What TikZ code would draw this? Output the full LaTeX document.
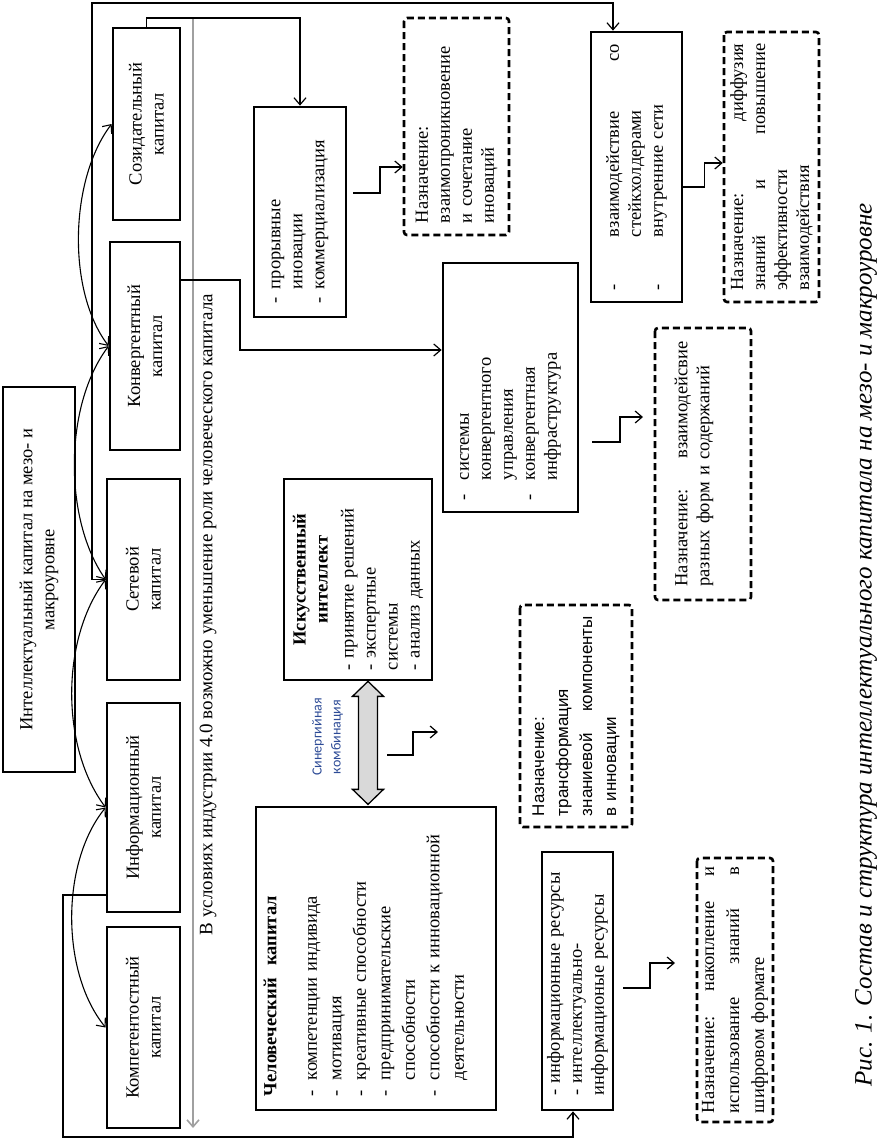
\documentclass[tikz,border=0pt]{standalone}
\usepackage{fontspec}
\setmainfont{Liberation Serif}
\newfontfamily\synfont{Carlito}
\newfontfamily\dsans{Liberation Sans}
\usetikzlibrary{arrows.meta}
\definecolor{synblue}{RGB}{45,75,150}
\definecolor{lgray}{RGB}{160,160,160}
\newcommand{\bfnt}{\fontsize{18.5}{22}\selectfont}
\newcommand{\itemdash}[1][14pt]{\makebox[#1][l]{-}}
\begin{document}
\begin{tikzpicture}[x=1pt,y=-1pt,
  box/.style={draw, line width=2.7pt, rotate=90, inner sep=0pt, align=center, font=\bfnt},
  dbox/.style={draw, line width=2.6pt, dash pattern=on 7pt off 4pt, rounded corners=3pt, rotate=90, inner sep=0pt, align=left, font=\bfnt},
  conn/.style={line width=1.2pt},
  arr/.style={line width=1.2pt, -{Straight Barb[length=7pt,width=12pt]}},
  curv/.style={line width=1.1pt, {Straight Barb[length=7pt,width=12pt]}-{Straight Barb[length=7pt,width=12pt]}},
]
\useasboundingbox (0,0) rectangle (879,1141);

% main and capital boxes
\node[box, minimum width=385pt, minimum height=72pt] (main) at (39,579.5) {Интеллектуальный капитал на мезо- и\\макроуровне};
\node[box, minimum width=192pt, minimum height=67pt] (sozid) at (146.5,124) {Созидательный\\капитал};
\node[box, minimum width=208pt, minimum height=70pt] (konv) at (145,346) {Конвергентный\\капитал};
\node[box, minimum width=201pt, minimum height=73pt] (setev) at (143.5,579.5) {Сетевой\\капитал};
\node[box, minimum width=209pt, minimum height=73pt] (inform) at (143.5,807.5) {Информационный\\капитал};
\node[box, minimum width=201pt, minimum height=73pt] (kompet) at (143.5,1027.5) {Компетентостный\\капитал};

% detail boxes
\node[box, align=left, text width=182pt, minimum width=210pt, minimum height=92pt] (proryv) at (300,212)
 {\itemdash прорывные\\\hspace*{14pt}иновации\\\itemdash коммерциализация};
\node[box, align=left, text width=225pt, minimum width=249pt, minimum height=135pt] (sist) at (510.5,387.5)
 {\itemdash[20pt]системы\\\hspace*{20pt}конвергентного\\\hspace*{20pt}управления\\\itemdash[20pt]конвергентная\\\hspace*{20pt}инфраструктура};
\node[box, align=left, text width=181pt, minimum width=201pt, minimum height=148pt] (ai) at (358,579.5)
 {\makebox[181pt]{\bfseries Искусственный}\\\makebox[181pt]{\bfseries интеллект}\\[4pt]\itemdash[12pt]принятие решений\\\itemdash[12pt]экспертные\\системы\\\itemdash[12pt]анализ данных};
\node[box, align=left, text width=275pt, minimum width=303pt, minimum height=240pt, font=\fontsize{18.5}{24.5}\selectfont] (human) at (376,958.5)
 {{\bfseries Человеческий\ \ капитал}\\[16pt]
  \itemdash[16pt]компетенции индивида\\\itemdash[16pt]мотивация\\\itemdash[16pt]креативные способности\\\itemdash[16pt]предпринимательские\\\hspace*{16pt}способности\\\itemdash[16pt]способности к инновационной\\\hspace*{16pt}деятельности\\\mbox{}};
\node[box, align=left, text width=228pt, minimum width=258pt, minimum height=71pt] (infres) at (577.5,981)
 {\itemdash[12pt]информационные ресурсы\\\itemdash[12pt]интеллектуально-\\информационые ресурсы};
\node[box, align=left, text width=246pt, minimum width=270pt, minimum height=91pt] (vzaim) at (636.5,167)
 {\itemdash[53pt]взаимодействие\hfill со\\\hspace*{53pt}стейкхолдерами\\\itemdash[53pt]внутренние сети};

% dashed boxes
\node[dbox, font=\dsans\fontsize{17}{24}\selectfont, text width=200pt, minimum width=222pt, minimum height=112pt] (d1) at (576,716)
 {Назначение:\\трансформация\\знаниевой\hfill компоненты\\в инновации};
\node[dbox, text width=193pt, minimum width=217pt, minimum height=105pt] (d2) at (456.5,126.5)
 {Назначение:\\взаимопроникновение\\и сочетание\\иноваций};
\node[dbox, text width=247pt, minimum width=270pt, minimum height=95pt] (d3) at (771.5,167)
 {Назначение:\hfill диффузия\\знаний\hfill и\hfill повышение\\эффективности\\взаимодействия};
\node[dbox, text width=245pt, minimum width=272pt, minimum height=96pt] (d4) at (703,464)
 {Назначение:\hfill взаимодейсвие\\разных форм и содержаний\\\mbox{}};
\node[dbox, text width=246pt, minimum width=264pt, minimum height=76pt, font=\fontsize{18.5}{25}\selectfont] (d5) at (735,990)
 {Назначение:\hfill накопление\hfill и\\использование\hfill знаний\hfill в\\шифровом формате};

% gray trend arrow with label
\coordinate (g1) at (193,18);
\coordinate (g2) at (193,1128);
\draw[line width=1.6pt, lgray, -{Straight Barb[length=7pt,width=12pt]}] (g1) -- (g2);
\node[rotate=90, font=\fontsize{19}{22}\selectfont, inner sep=0pt] (glab) at (208,614.5)
 {В условиях индустрии 4.0 возможно уменьшение роли человеческого капитала};

% synergy double arrow
\coordinate (a1) at ([xshift=10pt]ai.west);
\draw[line width=1.3pt, fill=gray!30] (a1) -- ++(15.5,15) -- ++(-6,0) -- ++(0,93) -- ++(6,0) -- ++(-15.5,15)
  -- ++(-15.5,-15) -- ++(6,0) -- ++(0,-93) -- ++(-6,0) -- cycle;
\node[rotate=90, font=\synfont\fontsize{14}{19}\selectfont, text=synblue, align=center, inner sep=0pt] (synlab) at (327.5,737)
 {Синергийная\\комбинация};

% curved arrows between capital boxes
\draw[curv] (sozid.north) .. controls +(-42,55) and +(-42,-55) .. (konv.north);
\draw[curv] (konv.north) .. controls +(-45,60) and +(-42,-60) .. (setev.north);
\draw[curv] (setev.north) .. controls +(-45,60) and +(-45,-60) .. (inform.north);
\draw[curv] (inform.north) .. controls +(-45,55) and +(-45,-55) .. (kompet.north);

% connectors from capitals to detail boxes
\coordinate (t1) at (300,18);
\draw[arr] (sozid.east) |- (t1) -- (proryv.east);
\coordinate (k2) at (240,300);
\draw[arr] ([yshift=66pt]konv.south) -| (k2) |- ([yshift=37.5pt]sist.north);
\coordinate (n1) at (92,3);
\draw[arr] (setev.north) -| (n1) -| ([xshift=-23.5pt]vzaim.east);
\coordinate (i1) at (63,1137);
\draw[arr] ([yshift=-87.5pt]inform.north) -| (i1) -| ([xshift=-4.5pt]infres.west);

% step arrows to purpose boxes
\coordinate (s1a) at (387,755); \coordinate (s1b) at (438,732);
\draw[arr] (s1a) -- ++(26,0) |- (s1b);
\coordinate (s2a) at (353,193);
\draw[arr] (s2a) -- ++(27,0) |- ([yshift=-40.5pt]d2.north);
\draw[arr] ([yshift=-20pt]vzaim.south) -- ++(21,0) |- ([yshift=4pt]d3.north);
\coordinate (s4a) at (592,442); \coordinate (s4b) at (643,417);
\draw[arr] (s4a) -- ++(28,0) |- (s4b);
\coordinate (s5a) at (623,988); \coordinate (s5b) at (675,963);
\draw[arr] (s5a) -- ++(27,0) |- (s5b);

% caption
\node[rotate=90, font=\itshape\fontsize{25}{29}\selectfont, inner sep=0pt] (cap) at (866,645)
 {Рис. 1. Состав и структура интеллектуального капитала на мезо- и макроуровне};
\end{tikzpicture}
\end{document}
